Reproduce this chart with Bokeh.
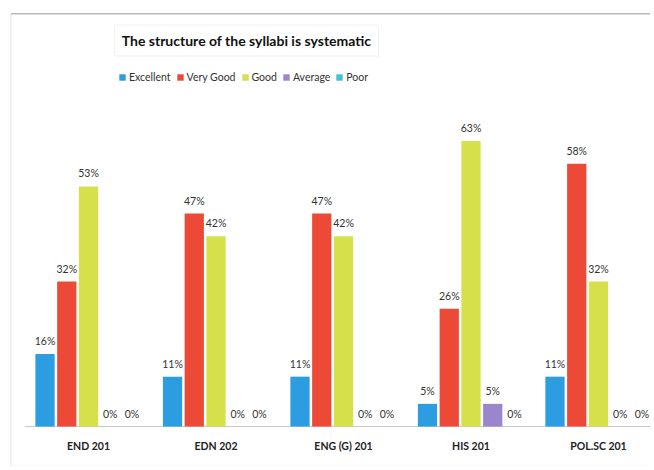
from bokeh.plotting import figure
from bokeh.models import (ColumnDataSource, Range1d, Label, Legend, LegendItem, Span)
from bokeh.core.properties import value
from bokeh.embed import file_html
from bokeh.resources import INLINE

# ---- data ----
categories = ["END 201", "EDN 202", "ENG (G) 201", "HIS 201", "POL.SC 201"]
series_names = ["Excellent", "Very Good", "Good", "Average", "Poor"]
excellent = [16, 11, 11, 5, 11]
very_good = [32, 47, 47, 26, 58]
good = [53, 42, 42, 63, 32]
average = [0, 0, 0, 5, 0]
poor = [0, 0, 0, 0, 0]
series_values = [excellent, very_good, good, average, poor]
colors = ["#2b9de0", "#ec4a37", "#d5e04b", "#9a86cc", "#3ec3d6"]
title_text = "The structure of the syllabi is systematic"

FONT = "Lato"
W, H = 650, 466
X0, X1 = -0.612, 4.408
Y0, Y1 = -8.83, 91.17

p = figure(width=W, height=H, output_backend="svg", toolbar_location=None,
           x_range=Range1d(X0, X1), y_range=Range1d(Y0, Y1),
           min_border_left=10, min_border_right=0, min_border_top=13, min_border_bottom=0)
p.xaxis.visible = False
p.yaxis.visible = False
p.xgrid.visible = False
p.ygrid.visible = False
p.outline_line_color = None
p.background_fill_color = "white"
p.border_fill_color = "white"

# chart box rules
p.add_layout(Span(location=Y1, dimension="width", line_color="#777777", line_width=1.5))
p.add_layout(Span(location=X0, dimension="height", line_color="#dcdcdc", line_width=1.5))
p.add_layout(Span(location=Y0, dimension="width", line_color="#e6e6e6", line_width=1.5))

n = len(categories)
p.segment(x0=[-0.5], x1=[n - 0.5], y0=[0], y1=[0], line_color="#c8c8c8", line_width=1)

step = 0.1706
bw = 0.151
items = []
for k, (name, vals, col) in enumerate(zip(series_names, series_values, colors)):
    xs = [i + (k - 2) * step for i in range(n)]
    src = ColumnDataSource(dict(x=xs, top=vals, lab=[f"{v}%" for v in vals]))
    r = p.vbar(x="x", top="top", width=bw, bottom=0, source=src, fill_color=col, line_color=None)
    items.append(LegendItem(label=name, renderers=[r]))
    p.text(x="x", y="top", text="lab", source=src, text_align="center", text_baseline="middle",
           y_offset=-13, text_font=value(FONT), text_font_size="10.5px", text_color="#333333")

# category labels
p.text(x=list(range(n)), y=[0] * n, text=categories, text_align="center", text_baseline="middle",
       y_offset=19, text_font=value(FONT), text_font_size="10.5px", text_font_style="bold",
       text_color="#222222")

# title
p.add_layout(Label(x=236, y=426, x_units="screen", y_units="screen", text=title_text,
                   text_align="center", text_baseline="middle", text_font=FONT,
                   text_font_size="14px", text_font_style="bold", text_color="#111111",
                   border_line_color="#f0f0f0", padding=7))

legend = Legend(items=items, orientation="horizontal", location=(108, 383),
                glyph_width=8, glyph_height=8, label_standoff=3, spacing=5,
                padding=0, margin=0, border_line_color=None, background_fill_alpha=0,
                label_text_font=FONT, label_text_font_size="10.5px", label_text_color="#333333",
                label_height=12)
p.add_layout(legend, "center")

open("out.html", "w").write(file_html(p, INLINE))
